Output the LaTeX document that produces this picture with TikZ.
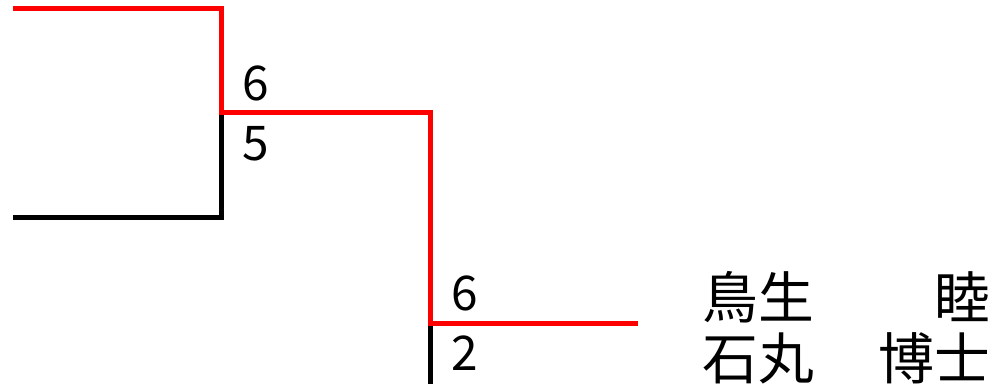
\documentclass[tikz,border=0pt]{standalone}
\usepackage{fontspec}
\newfontfamily\jp{Noto Sans CJK JP}
\begin{document}
\begin{tikzpicture}[x=1bp,y=-1bp,
  line width=5bp,
  win/.style={draw=red},
  lose/.style={draw=black},
  score/.style={font=\jp\fontsize{48}{48}\selectfont, anchor=base west, inner sep=0pt},
  pname/.style={font=\jp\fontsize{56}{56}\selectfont, inner sep=0pt}]
\useasboundingbox (0,0) rectangle (997,384);
% bracket points
\coordinate (t1) at (13,8);
\coordinate (c1) at (221.5,8);
\coordinate (b1) at (13,217.5);
\coordinate (d1) at (221.5,217.5);
\coordinate (j1) at (221.5,112.5);
\coordinate (c2) at (430,112.5);
\coordinate (j2) at (430,323);
\coordinate (b2) at (430,384);
\coordinate (e2) at (637.5,323);
% losers (black)
\draw[lose] (b1) -- (d1) -- (j1);
\draw[lose] (b2) -- (j2);
% winners (red)
\draw[win] (t1) -- (c1) -- (j1) -- (c2) -- (j2) -- (e2);
% scores
\node[score] (s1) at (240,100) {6};
\node[score] (s2) at (240,160) {5};
\node[score] (s3) at (448.5,310.5) {6};
\node[score] (s4) at (448.5,370) {2};
% names
\node[pname, anchor=base west] (n1a) at (700,318) {鳥生};
\node[pname, anchor=base east] (n1b) at (993,318) {睦};
\node[pname, anchor=base west] (n2a) at (700,379) {石丸};
\node[pname, anchor=base east] (n2b) at (993,379) {博士};
\end{tikzpicture}
\end{document}
